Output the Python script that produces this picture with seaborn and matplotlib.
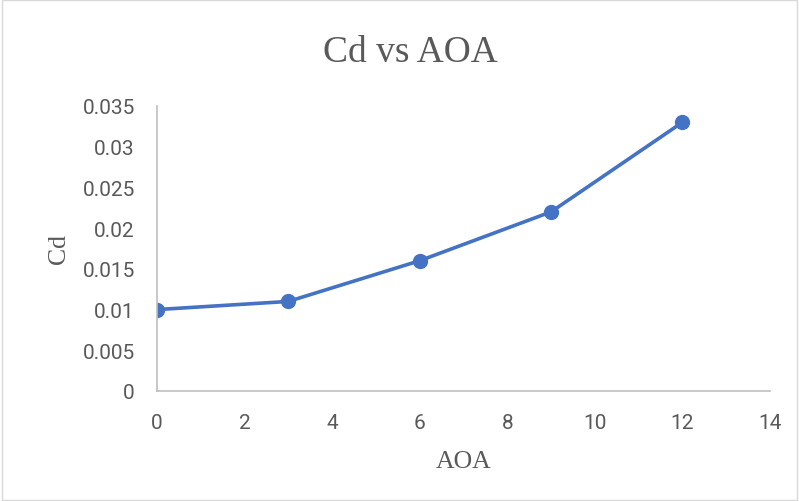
import pandas as pd
import matplotlib.pyplot as plt
import seaborn as sb
from matplotlib.patches import Rectangle

# data
aoa = [0, 3, 6, 9, 12]
cd = [0.010, 0.011, 0.016, 0.022, 0.033]
xticks = [0, 2, 4, 6, 8, 10, 12, 14]
yticks = [0, 0.005, 0.01, 0.015, 0.02, 0.025, 0.03, 0.035]
ytick_labels = ['0', '0.005', '0.01', '0.015', '0.02', '0.025', '0.03', '0.035']

df = pd.DataFrame({'AOA': aoa, 'Cd': cd})

sb.set_style('white')
grey = '#595959'

fig = plt.figure(figsize=(7.99, 5.02), dpi=100)
ax = fig.add_axes([157 / 799, 110 / 502, (770 - 157) / 799, (392 - 107) / 502])

sb.lineplot(data=df, x='AOA', y='Cd', ax=ax, color='#4472C4', linewidth=2.6,
            marker='o', markersize=11, markeredgewidth=0)

ax.set_xlim(0, 14)
ax.set_ylim(0, 0.035)
ax.set_xticks(xticks)
ax.set_yticks(yticks)
ax.set_yticklabels(ytick_labels)
ax.tick_params(length=0, labelsize=15, labelcolor=grey)
ax.tick_params(axis='y', pad=16)
ax.tick_params(axis='x', pad=16)
for lab in ax.get_xticklabels() + ax.get_yticklabels():
    lab.set_fontfamily('Roboto')

# spines like Excel
for side in ['top', 'right']:
    ax.spines[side].set_visible(False)
for side in ['left', 'bottom']:
    ax.spines[side].set_color('#bfbfbf')
    ax.spines[side].set_linewidth(1.2)

serif = 'Liberation Serif'
ax.set_xlabel('AOA', fontsize=18.5, color=grey, family=serif, labelpad=13)
ax.set_ylabel('Cd', fontsize=18.5, color=grey, family=serif, labelpad=9)
fig.text(0.513, 0.895, 'Cd vs AOA', ha='center', va='center',
         fontsize=27, color=grey, family=serif)

# outer chart border
fig.patches.append(Rectangle((0.002, 0.002), 0.996, 0.996, transform=fig.transFigure,
                             fill=False, edgecolor='#d9d9d9', linewidth=1))

fig.savefig('out.png', dpi=100)
